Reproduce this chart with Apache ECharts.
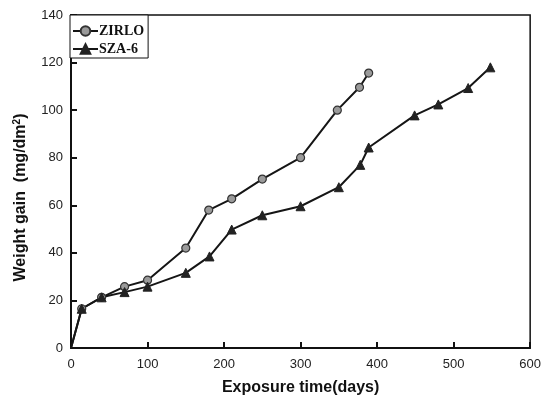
<!DOCTYPE html>
<html>
<head>
<meta charset="utf-8">
<script src="https://cdn.jsdelivr.net/npm/echarts@6/dist/echarts.min.js"></script>
<style>
  html, body { margin: 0; padding: 0; background: #fff; }
  #chart { width: 544px; height: 401px; }
</style>
</head>
<body>
<div id="chart"></div>
<script>
  // exposure time (days) and weight gain (mg/dm2)
  var zirloDays = [0, 14, 40, 70, 100, 150, 180, 210, 250, 300, 348, 377, 389];
  var zirloGain = [0, 16.5, 21.3, 25.8, 28.5, 42, 58, 62.7, 71, 80, 100, 109.6, 115.6];
  var szaDays = [0, 14, 40, 70, 100, 150, 181, 210, 250, 300, 350, 378, 389, 449, 480, 519, 548];
  var szaGain = [0, 16.5, 21.3, 23.5, 25.8, 31.6, 38.5, 49.8, 55.8, 59.6, 67.6, 77, 84.3, 97.8, 102.4, 109.3, 118];
  var xTicks = [0, 100, 200, 300, 400, 500, 600];
  var yTicks = [0, 20, 40, 60, 80, 100, 120, 140];

  function pairs(xs, ys) {
    return xs.map(function (x, i) { return [x, ys[i]]; });
  }
  // no marker at the origin
  function markSize(size) {
    return function (v, p) { return p.dataIndex === 0 ? 0 : size; };
  }

  var chart = echarts.init(document.getElementById('chart'));
  chart.setOption({
    animation: false,
    grid: {
      left: 71, right: 11, top: 15, bottom: 51,
      show: true, borderColor: '#111', borderWidth: 1.5
    },
    legend: {
      orient: 'vertical',
      left: 70, top: 15,
      padding: [9, 4, 2, 2],
      itemGap: 4,
      itemWidth: 25,
      itemHeight: 12,
      borderColor: '#111',
      borderWidth: 1,
      backgroundColor: '#fff',
      textStyle: {
        fontFamily: 'Liberation Serif',
        fontWeight: 'bold',
        fontSize: 14,
        color: '#111',
        padding: [0, 0, 0, -4]
      },
      data: ['ZIRLO', 'SZA-6']
    },
    xAxis: {
      type: 'value',
      min: xTicks[0], max: xTicks[xTicks.length - 1], interval: 100,
      name: 'Exposure time(days)',
      nameLocation: 'middle',
      nameGap: 32,
      nameTextStyle: { fontFamily: 'Liberation Sans', fontWeight: 'bold', fontSize: 16, color: '#111' },
      axisLine: { lineStyle: { color: '#111', width: 2 } },
      axisTick: { inside: true, length: 6, lineStyle: { color: '#111', width: 2 } },
      axisLabel: { fontFamily: 'Liberation Sans', fontSize: 13, color: '#222', margin: 10 },
      splitLine: { show: false }
    },
    yAxis: {
      type: 'value',
      min: yTicks[0], max: yTicks[yTicks.length - 1], interval: 20,
      name: 'Weight gain  (mg/dm{s|2})',
      nameLocation: 'middle',
      nameGap: 41,
      nameTextStyle: {
        fontFamily: 'Liberation Sans', fontWeight: 'bold', fontSize: 16, color: '#111',
        padding: [0, 32, 0, 0],
        rich: { s: { fontSize: 10, fontWeight: 'bold', verticalAlign: 'top', padding: [0, 0, 8, 0] } }
      },
      axisLine: { lineStyle: { color: '#111', width: 2 } },
      axisTick: { inside: true, length: 6, lineStyle: { color: '#111', width: 2 } },
      axisLabel: { fontFamily: 'Liberation Sans', fontSize: 13, color: '#222', margin: 8 },
      splitLine: { show: false }
    },
    series: [
      {
        name: 'ZIRLO',
        type: 'line',
        data: pairs(zirloDays, zirloGain),
        symbol: 'circle',
        symbolSize: markSize(8),
        lineStyle: { color: '#151515', width: 2 },
        itemStyle: { color: '#9a9a9a', borderColor: '#333', borderWidth: 1.2 }
      },
      {
        name: 'SZA-6',
        type: 'line',
        data: pairs(szaDays, szaGain),
        symbol: 'triangle',
        symbolSize: markSize(9),
        lineStyle: { color: '#151515', width: 2 },
        itemStyle: { color: '#222', borderColor: '#222', borderWidth: 1 }
      }
    ]
  });
</script>
</body>
</html>
